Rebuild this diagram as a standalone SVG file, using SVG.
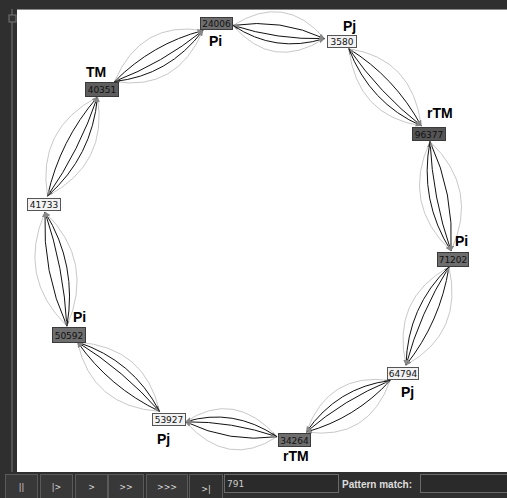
<svg xmlns="http://www.w3.org/2000/svg" width="507" height="498" viewBox="0 0 507 498">
<defs>
<marker id="ah" viewBox="0 0 10 10" refX="9" refY="5" markerWidth="6" markerHeight="6" orient="auto-start-reverse" markerUnits="userSpaceOnUse">
<path d="M0,0 L10,5 L0,10 z" fill="#888"/>
</marker>
<style>
.g{fill:none;stroke:#c8c8c8;stroke-width:1}
.b{fill:none;stroke:#111;stroke-width:1;marker-end:url(#ah)}
.nd{fill:#6e6e6e;stroke:#3a3a3a;stroke-width:1}
.nl{fill:#f2f2f2;stroke:#555;stroke-width:1}
.nt{font-family:"DejaVu Sans",sans-serif;font-size:9px;fill:#111;text-anchor:middle}
.lb{font-family:"Liberation Sans",Arial,sans-serif;font-size:14px;font-weight:bold;fill:#000}
.btn{fill:#383838;stroke:#5a5a5a;stroke-width:1}
.bt{font-family:"DejaVu Sans",sans-serif;font-size:8px;fill:#ddd;text-anchor:middle}
.fld{fill:#2a2a2a;stroke:#6a6a6a;stroke-width:1}
</style>
</defs>
<rect x="0" y="0" width="507" height="498" fill="#2f2f2f"/>
<rect x="17" y="9" width="490" height="463" fill="#ffffff"/>
<line x1="17" y1="9.5" x2="507" y2="9.5" stroke="#8a8a8a"/>
<line x1="12" y1="9" x2="12" y2="472" stroke="#777"/>
<rect x="9" y="15" width="7" height="7" fill="#333" stroke="#777"/>
<g id="connectors">
<path class="g" d="M233,25.4 Q285.1,-7.5 324.5,38.6"/>
<path class="g" d="M233,25.4 Q272.5,71.5 324.5,38.6"/>
<path class="b" d="M233,25.4 Q281,18.2 324.5,38.6"/>
<path class="b" d="M324.5,38.6 Q277.5,39.9 233,25.4"/>
<path class="b" d="M233,25.4 Q275.3,53.7 324.5,38.6"/>
<path class="g" d="M348.8,48.7 Q412.6,58.3 421.2,125.8"/>
<path class="g" d="M348.8,48.7 Q357.4,116.2 421.2,125.8"/>
<path class="b" d="M348.8,48.7 Q394.7,77.1 421.2,125.8"/>
<path class="b" d="M421.2,125.8 Q379.5,93.05 348.8,48.7"/>
<path class="b" d="M348.8,48.7 Q369.8,103.2 421.2,125.8"/>
<path class="g" d="M430,141.5 Q479.8,189 451,251"/>
<path class="g" d="M430,141.5 Q401.2,203.5 451,251"/>
<path class="b" d="M430,141.5 Q454.3,193.75 451,251"/>
<path class="b" d="M451,251 Q432.6,197.75 430,141.5"/>
<path class="b" d="M430,141.5 Q418.9,200.25 451,251"/>
<path class="g" d="M449,266.9 Q463.8,332.9 406,365.1"/>
<path class="g" d="M449,266.9 Q391.2,299.1 406,365.1"/>
<path class="b" d="M449,266.9 Q440.2,321.9 406,365.1"/>
<path class="b" d="M406,365.1 Q420.2,312.6 449,266.9"/>
<path class="b" d="M449,266.9 Q407.5,306.7 406,365.1"/>
<path class="g" d="M390.2,380.5 Q368.4,440.9 306.3,432"/>
<path class="g" d="M390.2,380.5 Q328.2,371.7 306.3,432"/>
<path class="b" d="M390.2,380.5 Q355.3,418.4 306.3,432"/>
<path class="b" d="M306.3,432 Q344.2,399.3 390.2,380.5"/>
<path class="b" d="M390.2,380.5 Q337.2,387.2 306.3,432"/>
<path class="g" d="M277,436.7 Q228,469.2 185.5,421.8"/>
<path class="g" d="M277,436.7 Q234.5,389.4 185.5,421.8"/>
<path class="b" d="M277,436.7 Q230.1,443.2 185.5,421.8"/>
<path class="b" d="M185.5,421.8 Q231.9,421.3 277,436.7"/>
<path class="b" d="M277,436.7 Q233,407.3 185.5,421.8"/>
<path class="g" d="M159.5,411.4 Q91.9,406.7 77.5,342.1"/>
<path class="g" d="M159.5,411.4 Q145.1,346.9 77.5,342.1"/>
<path class="b" d="M159.5,411.4 Q109.2,387.2 77.5,342.1"/>
<path class="b" d="M77.5,342.1 Q123.8,370.8 159.5,411.4"/>
<path class="b" d="M159.5,411.4 Q133.1,360.3 77.5,342.1"/>
<path class="g" d="M66.9,326.1 Q16.8,276.9 45,212"/>
<path class="g" d="M66.9,326.1 Q95.2,261.6 45,212"/>
<path class="b" d="M66.9,326.1 Q42.3,272 45,212"/>
<path class="b" d="M45,212 Q63.8,267.8 66.9,326.1"/>
<path class="b" d="M66.9,326.1 Q77.6,265.1 45,212"/>
<path class="g" d="M47.5,196.1 Q36.6,128.9 97.5,96.9"/>
<path class="g" d="M47.5,196.1 Q108.4,164.1 97.5,96.9"/>
<path class="b" d="M47.5,196.1 Q59.9,140.3 97.5,96.9"/>
<path class="b" d="M97.5,96.9 Q79.7,150 47.5,196.1"/>
<path class="b" d="M47.5,196.1 Q92.3,156.2 97.5,96.9"/>
<path class="g" d="M114.5,81.5 Q140.9,20.2 203,30.5"/>
<path class="g" d="M114.5,81.5 Q176.7,91.8 203,30.5"/>
<path class="b" d="M114.5,81.5 Q152.5,43.5 203,30.5"/>
<path class="b" d="M203,30.5 Q162.3,63.2 114.5,81.5"/>
<path class="b" d="M114.5,81.5 Q168.7,75.7 203,30.5"/>
</g>
<g id="n24006"><rect class="nd" x="200.5" y="17.5" width="32" height="12"/><text class="nt" x="216.5" y="27">24006</text><text class="lb" x="209" y="46">Pi</text></g>
<g id="n3580"><rect class="nl" x="327.5" y="35.5" width="29" height="12"/><text class="nt" x="342" y="45">3580</text><text class="lb" x="343" y="31">Pj</text></g>
<g id="n96377"><rect class="nd" x="412.5" y="127.5" width="33" height="13" style="fill:#555"/><text class="nt" x="429" y="137.5">96377</text><text class="lb" x="427" y="118">rTM</text></g>
<g id="n71202"><rect class="nd" x="437.5" y="252.5" width="31" height="14"/><text class="nt" x="453" y="263">71202</text><text class="lb" x="455" y="246">Pi</text></g>
<g id="n64794"><rect class="nl" x="387.5" y="367.5" width="31" height="12"/><text class="nt" x="403" y="377">64794</text><text class="lb" x="401" y="397">Pj</text></g>
<g id="n34264"><rect class="nd" x="278.5" y="433.5" width="32" height="13"/><text class="nt" x="294.5" y="443.5">34264</text><text class="lb" x="283" y="461">rTM</text></g>
<g id="n53927"><rect class="nl" x="152.5" y="413.5" width="33" height="12"/><text class="nt" x="169" y="423">53927</text><text class="lb" x="157" y="444">Pj</text></g>
<g id="n50592"><rect class="nd" x="52.5" y="327.5" width="33" height="15"/><text class="nt" x="69" y="338.5">50592</text><text class="lb" x="73" y="322">Pi</text></g>
<g id="n41733"><rect class="nl" x="27.5" y="198.5" width="33" height="12"/><text class="nt" x="44" y="208">41733</text></g>
<g id="n40351"><rect class="nd" x="85.5" y="82.5" width="33" height="14" style="fill:#5e5e5e"/><text class="nt" x="102" y="93">40351</text><text class="lb" x="86" y="77">TM</text></g>
<g id="toolbar">
<rect x="0" y="472" width="507" height="26" fill="#2f2f2f"/>
<rect class="btn" x="5.5" y="474.5" width="32" height="24"/><text class="bt" x="21.5" y="490">||</text>
<rect class="btn" x="40.5" y="474.5" width="32" height="24"/><text class="bt" x="56.5" y="490">|&gt;</text>
<rect class="btn" x="75.5" y="474.5" width="32" height="24"/><text class="bt" x="91.5" y="490">&gt;</text>
<rect class="btn" x="108.5" y="474.5" width="35" height="24"/><text class="bt" x="126" y="490">&gt;&gt;</text>
<rect class="btn" x="146.5" y="474.5" width="41" height="24"/><text class="bt" x="167" y="490">&gt;&gt;&gt;</text>
<rect class="btn" x="189.5" y="474.5" width="33" height="24" style="fill:#303030"/><text class="bt" x="206" y="492">&gt;|</text>
<rect class="fld" x="224.5" y="474.5" width="114" height="18"/><text x="227" y="487" font-family="DejaVu Sans, sans-serif" font-size="9px" fill="#ccc">791</text>
<text x="342" y="488" font-family="Liberation Sans, Arial, sans-serif" font-size="10px" font-weight="bold" fill="#ddd">Pattern match:</text>
<rect class="fld" x="420.5" y="474.5" width="87" height="18"/>
</g>
</svg>
